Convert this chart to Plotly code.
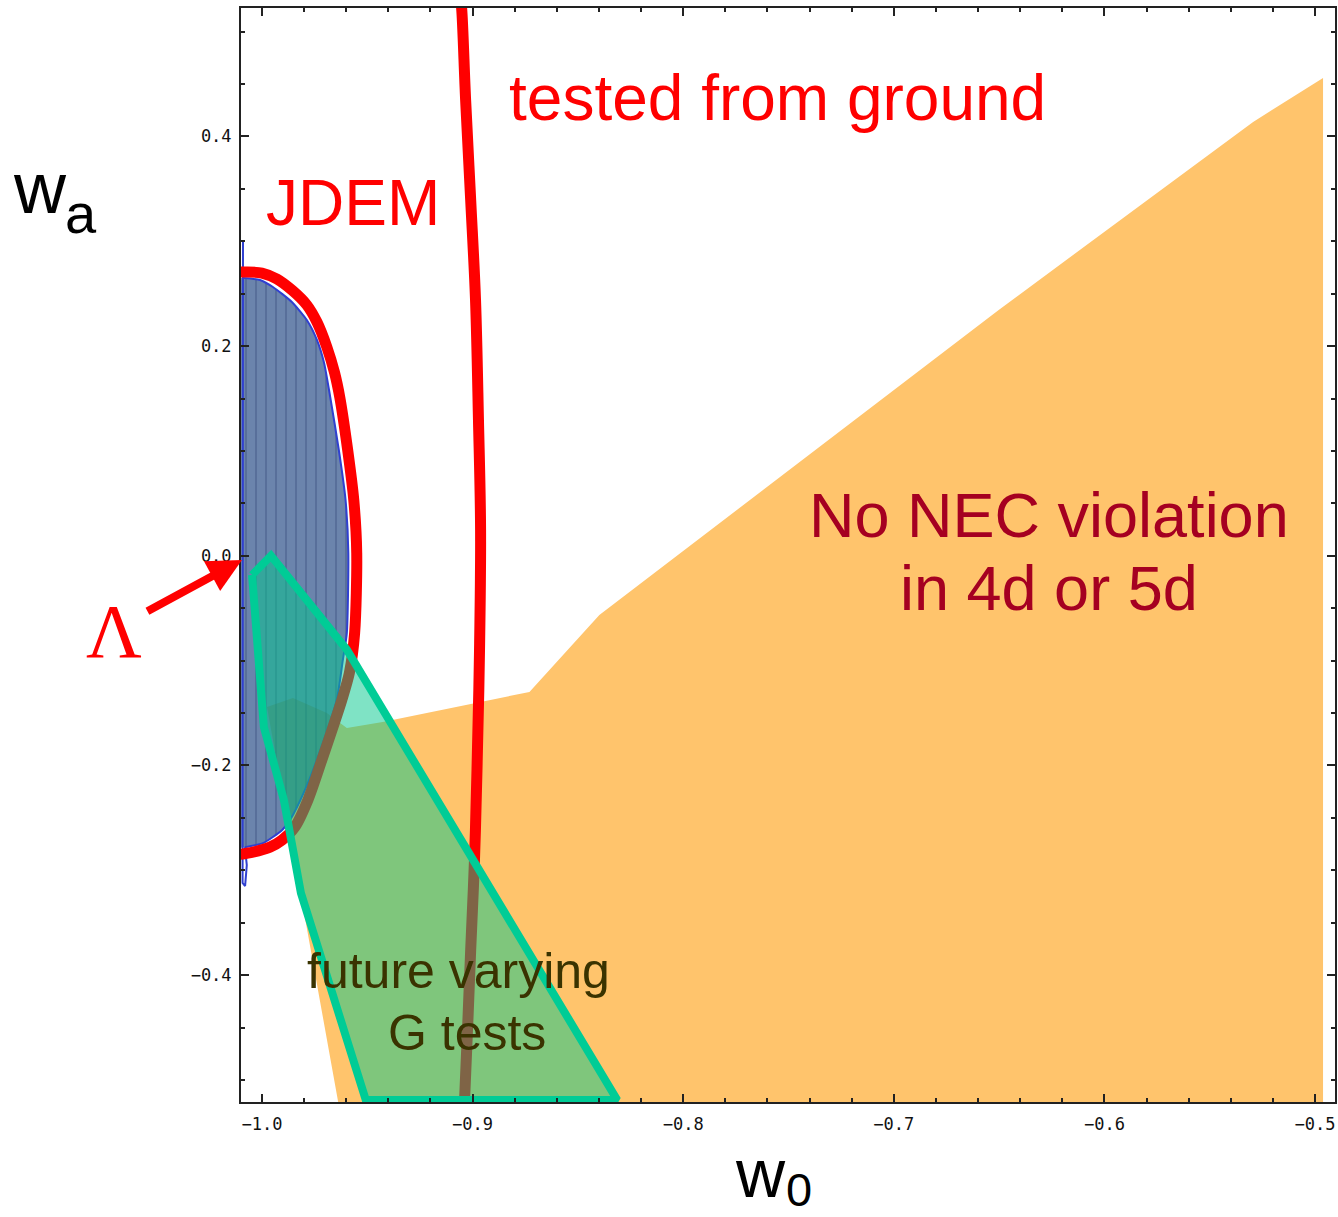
import plotly.graph_objects as go

# ---------------- data ----------------
W0_TICKS = [-1.0, -0.9, -0.8, -0.7, -0.6, -0.5]
WA_TICKS = [-0.4, -0.2, 0.0, 0.2, 0.4]
W0_RANGE = [-1.00995, -0.49052]
WA_RANGE = [-0.521, 0.5225]

# "No NEC violation in 4d or 5d" region (orange)
nec_w0 = [-0.4962, -0.5294, -0.6502, -0.8398, -0.8730, -0.9427, -0.9597,
          -0.9692, -0.9853, -0.9976, -0.9630, -0.4962]
nec_wa = [0.4557, 0.4138, 0.2345, -0.0565, -0.1299, -0.1585, -0.1643,
          -0.1499, -0.1357, -0.1443, -0.530, -0.530]

# JDEM forecast region (blue), right-hand boundary from top to bottom
jdem_w0 = [-1.0090, -1.0009, -0.9948, -0.9858, -0.9787, -0.9739, -0.9705,
           -0.9676, -0.9635, -0.9603, -0.9590, -0.9597, -0.9616, -0.9645,
           -0.9740, -0.9796, -0.9867, -0.9905, -0.9995, -1.0081]
jdem_wa = [0.2650, 0.2631, 0.2564, 0.2421, 0.2249, 0.2059, 0.1839,
           0.1515, 0.1009, 0.0532, 0.0027, -0.0737, -0.0995, -0.1376,
           -0.1949, -0.2235, -0.2521, -0.2617, -0.2741, -0.2779]
# thin blue contour along the left frame (with small loop at the bottom)
jdem_edge_w0 = [-1.0090, -1.0090, -1.0092, -1.0080, -1.0072, -1.0081]
jdem_edge_wa = [0.301, -0.290, -0.312, -0.315, -0.295, -0.2779]

# JDEM red contour
jdem_red_w0 = [-1.0128, -1.0081, -1.0000, -0.9929, -0.9853, -0.9787, -0.9739,
               -0.9692, -0.9655, -0.9630, -0.9593, -0.9564, -0.9550, -0.9560,
               -0.9585, -0.9621, -0.9716, -0.9782, -0.9844, -0.9905, -0.9962,
               -1.0043, -1.0128]
jdem_red_wa = [0.2707, 0.2707, 0.2697, 0.2640, 0.2526, 0.2392, 0.2230,
               0.1992, 0.1744, 0.1506, 0.1009, 0.0532, 0.0027, -0.0737,
               -0.1118, -0.1376, -0.1949, -0.2330, -0.2588, -0.2712, -0.2779,
               -0.2827, -0.2856]

# "tested from ground" red contour
ground_w0 = [-0.9057, -0.9052, -0.9033, -0.9009, -0.8986, -0.8972, -0.8962,
             -0.8967, -0.8979, -0.8991, -0.9009, -0.9038, -0.9043]
ground_wa = [0.530, 0.5225, 0.4348, 0.3394, 0.2441, 0.1295, 0.0246,
             -0.0899, -0.2043, -0.2902, -0.3760, -0.5191, -0.5334]

# "future varying G tests" region (green)
g_w0 = [-1.0047, -0.9957, -0.9597, -0.8313, -0.9507, -0.9815, -0.9896, -0.9991, -1.0047]
g_wa = [-0.0183, 0.0, -0.0895, -0.5191, -0.5191, -0.3216, -0.2329, -0.1633, -0.0183]

# Lambda (cosmological constant) point
LAMBDA_W0, LAMBDA_WA = -1.0095, -0.004

# ---------------- figure ----------------
fig = go.Figure()

fig.add_trace(go.Scatter(x=nec_w0, y=nec_wa, fill="toself", mode="lines",
                         line=dict(width=0), fillcolor="rgb(255,196,108)",
                         hoverinfo="skip"))

fill_w0 = jdem_w0 + [-1.0130, -1.0130]
fill_wa = jdem_wa + [jdem_wa[-1], jdem_wa[0]]
fig.add_trace(go.Scatter(x=fill_w0, y=fill_wa, fill="toself", mode="lines",
                         line=dict(width=0, shape="spline", smoothing=0.6),
                         fillcolor="rgba(50,85,140,0.72)",
                         fillpattern=dict(shape="|", size=10, solidity=0.12,
                                          fgcolor="rgba(20,40,90,0.75)",
                                          bgcolor="rgba(50,85,140,0.72)"),
                         hoverinfo="skip"))
fig.add_trace(go.Scatter(x=jdem_w0, y=jdem_wa, mode="lines",
                         line=dict(color="#3040d0", width=2, shape="spline", smoothing=0.6),
                         hoverinfo="skip"))
fig.add_trace(go.Scatter(x=jdem_edge_w0, y=jdem_edge_wa, mode="lines",
                         line=dict(color="#3040d0", width=2), hoverinfo="skip"))

fig.add_trace(go.Scatter(x=jdem_red_w0, y=jdem_red_wa, mode="lines",
                         line=dict(color="#ff0000", width=11, shape="spline", smoothing=0.8),
                         hoverinfo="skip"))
fig.add_trace(go.Scatter(x=ground_w0, y=ground_wa, mode="lines",
                         line=dict(color="#ff0000", width=11, shape="spline"),
                         hoverinfo="skip"))

fig.add_trace(go.Scatter(x=g_w0, y=g_wa, fill="toself", mode="lines",
                         fillcolor="rgba(0,200,140,0.5)",
                         line=dict(color="#00cc96", width=8),
                         hoverinfo="skip"))

tickfont = dict(family="DejaVu Sans Mono", size=17, color="#111111")
fig.update_xaxes(range=W0_RANGE, tickvals=W0_TICKS, tickformat=".1f",
                 ticks="inside", ticklen=8, tickwidth=1.5, tickcolor="#222",
                 minor=dict(dtick=0.02, tick0=-1.0, ticks="inside", ticklen=4,
                            tickwidth=1.5, tickcolor="#222"),
                 showline=True, linewidth=2, linecolor="#222", mirror="allticks",
                 showgrid=False, zeroline=False, tickfont=tickfont,
                 ticklabelstandoff=6)
fig.update_yaxes(range=WA_RANGE, tickvals=WA_TICKS, tickformat=".1f",
                 ticks="inside", ticklen=8, tickwidth=1.5, tickcolor="#222",
                 minor=dict(dtick=0.05, tick0=0.0, ticks="inside", ticklen=4,
                            tickwidth=1.5, tickcolor="#222"),
                 showline=True, linewidth=2, linecolor="#222", mirror="allticks",
                 showgrid=False, zeroline=False, tickfont=tickfont,
                 ticklabelstandoff=4)

sans = "Liberation Sans, Arial, sans-serif"
ann = []
def txt(t, x, y, size, color, family=sans, ref="data"):
    xr, yr = ("x", "y") if ref == "data" else ("paper", "paper")
    ann.append(dict(text=t, x=x, y=y, xref=xr, yref=yr, showarrow=False,
                    xanchor="center", yanchor="middle",
                    font=dict(family=family, size=size, color=color)))

txt("tested from ground", -0.7550, 0.4367, 64, "#ff0000")
txt("JDEM", -0.9569, 0.3367, 64, "#ff0000")
txt("No NEC violation", -0.6263, 0.0387, 63, "#a50021")
txt("in 4d or 5d", -0.6265, -0.0309, 63, "#a50021")
txt("future varying", -0.9066, -0.3957, 50, "#3a3300")
txt("G tests", -0.9028, -0.4549, 50, "#3a3300")
# axis titles and the Lambda label sit outside the plotting area
txt("w", -0.1834, 0.8355, 72, "#000000", ref="paper")
txt("a", -0.1460, 0.8121, 56, "#000000", ref="paper")
txt("w", 0.4745, -0.0653, 68, "#000000", ref="paper")
txt("0", 0.5100, -0.0800, 47, "#000000", ref="paper")
txt("Λ", -0.1159, 0.4305, 77, "#ff0000",
    family="Liberation Serif, Times New Roman, serif", ref="paper")

ann.append(dict(x=LAMBDA_W0, y=LAMBDA_WA, xref="x", yref="y", text="",
                showarrow=True, ax=-96, ay=52, arrowcolor="#ff0000",
                arrowwidth=8, arrowhead=2, arrowsize=0.85, standoff=0))

fig.update_layout(width=1338, height=1217,
                  margin=dict(l=241, r=1, t=8, b=115),
                  paper_bgcolor="white", plot_bgcolor="white",
                  showlegend=False, annotations=ann)

fig.write_html("out.html")
